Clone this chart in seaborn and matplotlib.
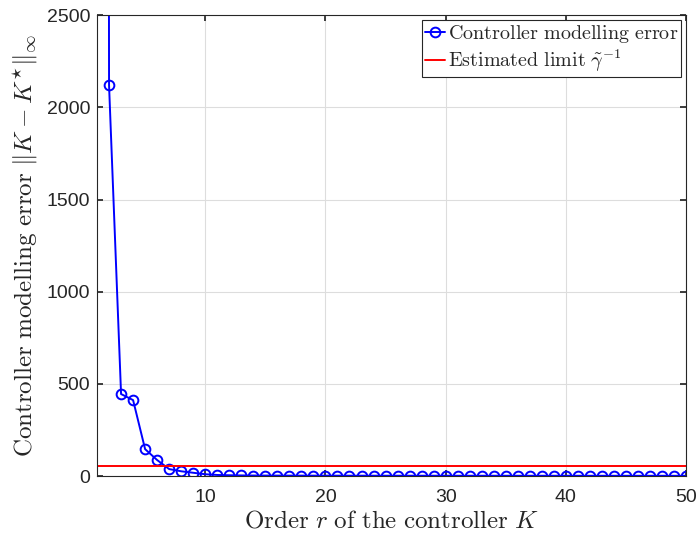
import matplotlib
matplotlib.use("Agg")
import matplotlib.pyplot as plt
import seaborn as sns
import pandas as pd

# controller order r and the measured modelling error
orders = list(range(1, 51))
errors = [60000, 2120, 445, 412, 146, 87, 38, 26, 18, 10,
          6, 4.5, 3.5, 3, 2.8, 2.6, 2.5, 2.4, 2.3, 2.2,
          2.2, 2.1, 2.1, 2.0, 2.0, 2.0, 1.9, 1.9, 1.9, 1.9,
          1.8, 1.8, 1.8, 1.8, 1.8, 1.7, 1.7, 1.7, 1.7, 1.7,
          1.7, 1.6, 1.6, 1.6, 1.6, 1.6, 1.6, 1.6, 1.5, 1.5]
gamma_limit = 52

df = pd.DataFrame({'order': orders, 'error': errors})

sns.set_theme(style="ticks")
plt.rcParams['mathtext.fontset'] = 'cm'
plt.rcParams['font.family'] = ['Liberation Sans', 'DejaVu Sans']

fig = plt.figure(figsize=(6.98, 5.41), dpi=100)
ax = fig.add_axes([0.139, 0.120, 0.844, 0.852])

sns.lineplot(data=df, x='order', y='error', ax=ax, color='blue', lw=1.4,
             marker='o', markersize=7, markerfacecolor='none',
             markeredgecolor='blue', markeredgewidth=1.4,
             label=r'$\mathrm{Controller\ modelling\ error}$')
ax.axhline(gamma_limit, color='red', lw=1.4,
           label=r'$\mathrm{Estimated\ limit}\ \tilde{\gamma}^{-1}$')

ax.set_xlim(1, 50)
ax.set_ylim(0, 2500)
ax.set_xticks([10, 20, 30, 40, 50])
ax.set_yticks([0, 500, 1000, 1500, 2000, 2500])
ax.grid(True, color='#dddddd', lw=0.8)
ax.tick_params(direction='in', labelsize=14, colors='#262626', length=4,
               top=True, right=True)
ax.tick_params(axis='x', pad=9)
ax.tick_params(axis='y', pad=5)
for s in ax.spines.values():
    s.set_color('#262626')
    s.set_linewidth(0.8)

ax.set_xlabel(r'$\mathrm{Order}\ r\ \mathrm{of\ the\ controller}\ K$', fontsize=18,
              color='#262626', labelpad=2)
ax.set_ylabel(r'$\mathrm{Controller\ modelling\ error}\ \|K-K^{\star}\|_{\infty}$', fontsize=18,
              color='#262626', labelpad=5)

leg = ax.legend(loc='upper right', fontsize=14.5, fancybox=False, framealpha=1,
                edgecolor='#262626', borderpad=0.15, handlelength=1.0,
                handletextpad=0.15, labelspacing=0.1, borderaxespad=0.25)
leg.get_frame().set_linewidth(0.8)

fig.savefig('out.png', dpi=100)
